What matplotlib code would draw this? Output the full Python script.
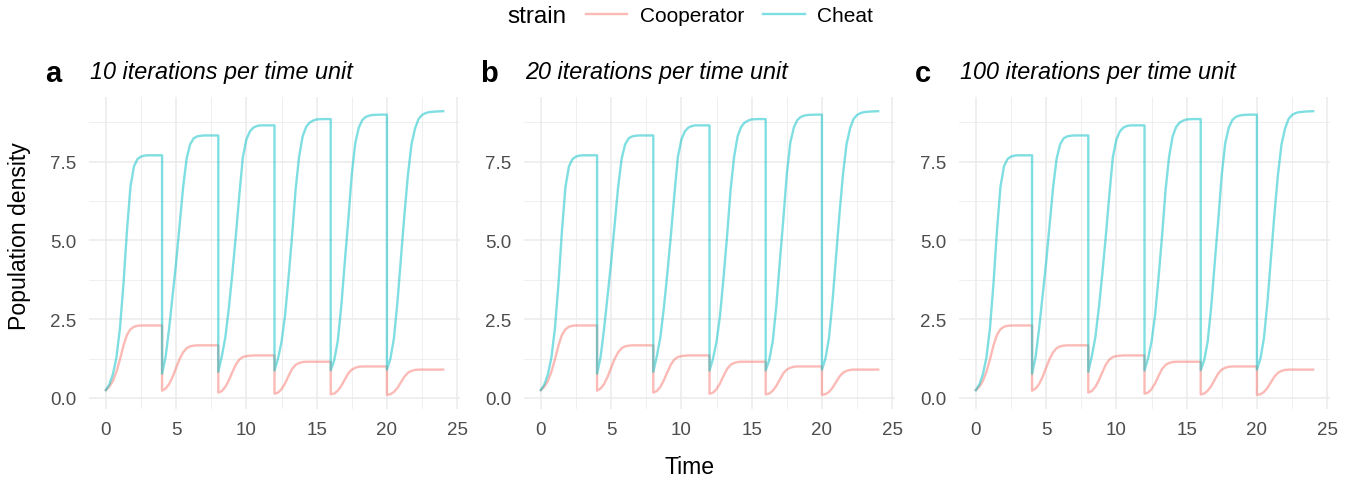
import matplotlib
matplotlib.use("Agg")
import matplotlib.pyplot as plt
from matplotlib.lines import Line2D
from matplotlib.offsetbox import HPacker
import numpy as np

plt.rcParams['font.family'] = ['Liberation Sans', 'DejaVu Sans']

# ---- data ----
cycle_length = 4
offsets = [0, 0.25, 0.5, 0.75, 1.0, 1.25, 1.5, 1.75, 2.0, 2.25, 2.5, 2.75, 3.0, 3.5, 4.0]

cheat_c1 = [0.25, 0.43, 0.75, 1.28, 2.2, 3.6, 5.3, 6.7, 7.35, 7.58, 7.66, 7.69, 7.7, 7.7, 7.7]
cheat_c2 = [0.77, 1.3, 2.2, 3.25, 4.3, 5.5, 6.7, 7.6, 8.05, 8.24, 8.3, 8.32, 8.33, 8.33, 8.33]
cheat_c3 = [0.83, 1.32, 1.92, 2.85, 3.95, 5.15, 6.45, 7.65, 8.2, 8.46, 8.58, 8.63, 8.65, 8.65, 8.65]
cheat_c4 = [0.87, 1.25, 1.78, 2.62, 3.82, 5.14, 6.6, 7.65, 8.3, 8.6, 8.74, 8.8, 8.84, 8.85, 8.85]
cheat_c5 = [0.88, 1.2, 1.8, 2.9, 4.3, 5.65, 7.1, 8.1, 8.58, 8.82, 8.92, 8.96, 8.98, 8.99, 8.99]
cheat_c6 = [0.9, 1.25, 1.9, 3.05, 4.45, 5.85, 7.1, 8.05, 8.55, 8.85, 8.98, 9.04, 9.07, 9.09, 9.1]

coop_c1 = [0.25, 0.36, 0.54, 0.83, 1.22, 1.66, 2.0, 2.18, 2.26, 2.29, 2.3, 2.3, 2.3, 2.3, 2.3]
coop_c2 = [0.23, 0.3, 0.44, 0.67, 0.96, 1.24, 1.45, 1.58, 1.64, 1.66, 1.67, 1.67, 1.67, 1.67, 1.67]
coop_c3 = [0.17, 0.22, 0.35, 0.56, 0.82, 1.06, 1.22, 1.3, 1.33, 1.34, 1.35, 1.35, 1.35, 1.35, 1.35]
coop_c4 = [0.135, 0.17, 0.28, 0.46, 0.7, 0.92, 1.05, 1.11, 1.14, 1.15, 1.15, 1.15, 1.15, 1.15, 1.15]
coop_c5 = [0.115, 0.14, 0.23, 0.38, 0.58, 0.78, 0.9, 0.96, 0.99, 1.0, 1.0, 1.0, 1.0, 1.0, 1.0]
coop_c6 = [0.1, 0.12, 0.19, 0.32, 0.5, 0.68, 0.8, 0.86, 0.89, 0.9, 0.9, 0.9, 0.9, 0.9, 0.9]

cheat_cycles = [cheat_c1, cheat_c2, cheat_c3, cheat_c4, cheat_c5, cheat_c6]
coop_cycles = [coop_c1, coop_c2, coop_c3, coop_c4, coop_c5, coop_c6]

tags = ["a", "b", "c"]
titles = ["10 iterations per time unit", "20 iterations per time unit", "100 iterations per time unit"]
strains = ["Cooperator", "Cheat"]
colors = {"Cooperator": "#F8766D", "Cheat": "#00BFC4"}

x_ticks = [0, 5, 10, 15, 20, 25]
y_ticks = [0.0, 2.5, 5.0, 7.5]
y_ticklabels = ["0.0", "2.5", "5.0", "7.5"]

# assemble series
time = np.concatenate([k * cycle_length + np.array(offsets) for k in range(len(cheat_cycles))])
series = {
    "Cooperator": np.concatenate(coop_cycles),
    "Cheat": np.concatenate(cheat_cycles),
}

W, H = 1355, 485
fig = plt.figure(figsize=(W / 100, H / 100), dpi=100)

tmin, tmax = time.min(), time.max()
allv = np.concatenate(list(series.values()))
vmin, vmax = allv.min(), allv.max()
xpad = 0.05 * (tmax - tmin)
ypad = 0.05 * (vmax - vmin)

ax_left_px = [89, 524, 959]
ax_w_px = 371
ax_top_px = 98
ax_bot_px = 410
text_col = "#4D4D4D"

for i in range(3):
    ax = fig.add_axes([ax_left_px[i] / W, 1 - ax_bot_px / H, ax_w_px / W, (ax_bot_px - ax_top_px) / H])
    for s in strains:
        ax.plot(time, series[s], color=colors[s], alpha=0.5, lw=1.7, solid_joinstyle='round')
    ax.set_xlim(tmin - xpad, tmax + xpad)
    ax.set_ylim(vmin - ypad, vmax + ypad)
    ax.set_xticks(x_ticks)
    ax.set_yticks(y_ticks)
    ax.set_yticklabels(y_ticklabels)
    ax.set_xticks([2.5, 7.5, 12.5, 17.5, 22.5], minor=True)
    ax.set_yticks([1.25, 3.75, 6.25, 8.75], minor=True)
    ax.grid(True, which='major', color='#EBEBEB', lw=1.1)
    ax.grid(True, which='minor', color='#EBEBEB', lw=0.55)
    ax.set_axisbelow(True)
    for sp in ax.spines.values():
        sp.set_visible(False)
    ax.tick_params(which='both', length=0, labelsize=13.5, colors=text_col)
    ax.tick_params(axis='y', pad=9)
    ax.tick_params(axis='x', pad=9)
    for lab in ax.get_xticklabels() + ax.get_yticklabels():
        lab.set_color(text_col)
    fig.text((ax_left_px[i] - 44) / W, 1 - 74 / H, tags[i], fontsize=21, fontweight='bold', va='center', ha='left')
    fig.text((ax_left_px[i] + 1) / W, 1 - 72 / H, titles[i], fontsize=16.8, style='italic', va='center', ha='left')

fig.text(20 / W, 1 - 236 / H, "Population density", fontsize=16.6, rotation=90, ha='center', va='center')
fig.text(690 / W, 1 - 468 / H, "Time", fontsize=16.6, ha='center', va='center')

# legend
handles = [Line2D([0], [0], color=colors[s], alpha=0.5, lw=1.7) for s in strains]
leg = fig.legend(handles, strains, loc='center', bbox_to_anchor=(690 / W, 1 - 17 / H), ncol=2,
                 frameon=False, title="strain", fontsize=15, title_fontsize=17.5,
                 handlelength=2.0, handletextpad=0.6, columnspacing=0.9)
leg._legend_box._children = [HPacker(children=[leg._legend_title_box, leg._legend_box._children[1]],
                                     align='center', pad=0, sep=14)]

fig.savefig("out.png", dpi=100)
